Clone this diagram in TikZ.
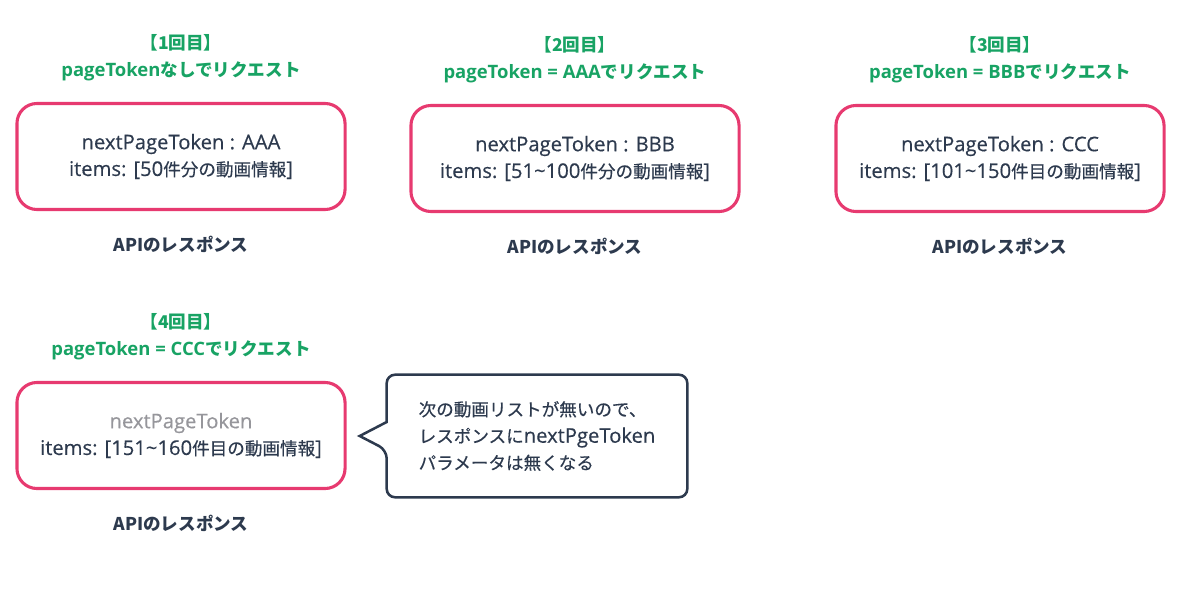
\documentclass[tikz,border=0pt]{standalone}
\usepackage{fontspec}
\setmainfont{Noto Sans CJK JP}[UprightFeatures={FakeBold=0.4}]
\newfontfamily\latinfont[Scale=1.15, FakeBold=0.4]{Open Sans}
\newfontfamily\headlatin[Scale=1.05]{Open Sans}
\usepackage{xcolor}
\usepackage{tikz}
\usetikzlibrary{positioning, calc}
\definecolor{rosepink}{RGB}{231,58,112}
\definecolor{leafgreen}{RGB}{24,163,100}
\definecolor{inkslate}{RGB}{45,58,78}
\definecolor{fadegray}{RGB}{150,150,155}
\newcommand{\lat}[1]{{\latinfont #1}}
\newcommand{\hlat}[1]{{\headlatin #1}}
\newcommand{\wavesep}{{\char"007E\relax}}

\begin{document}
\begin{tikzpicture}[
    x=0.025cm, y=-0.025cm,
    resp/.style={rectangle, draw=rosepink, line width=2.2pt, rounded corners=0.5cm, minimum width=8.2cm, minimum height=2.65cm, align=center, text=inkslate, font=\fontsize{12.5}{19}\selectfont},
    req/.style={align=center, text=leafgreen, font=\fontsize{12.5}{19}\selectfont\bfseries},
    apilabel/.style={text=inkslate, font=\fontsize{12.5}{19}\selectfont\bfseries},
    note/.style={rectangle, minimum width=7.5cm, minimum height=3.05cm, align=left, text=inkslate, font=\fontsize{12.5}{19}\selectfont},
    callout/.style={draw=inkslate, line width=1.8pt, fill=white}
]
\useasboundingbox (0,0) rectangle (1200,604);

% Responses
\node[resp] (res1) at (181,156.5) {\lat{nextPageToken : AAA}\\\lat{items: [50}件分の動画情報\lat{]}};
\node[resp] (res2) at (575,158.5) {\lat{nextPageToken : BBB}\\\lat{items: [51\wavesep100}件分の動画情報\lat{]}};
\node[resp] (res3) at (1000,158.5) {\lat{nextPageToken : CCC}\\\lat{items: [101\wavesep150}件目の動画情報\lat{]}};
\node[resp] (res4) at (181,435.5) {\textcolor{fadegray}{\lat{nextPageToken}}\\\lat{items: [151\wavesep160}件目の動画情報\lat{]}};

% Requests
\node[req, above=0.4cm of res1] (req1) {【1回目】\\\hlat{pageToken}なしでリクエスト};
\node[req, above=0.4cm of res2] (req2) {【2回目】\\\hlat{pageToken = AAA}でリクエスト};
\node[req, above=0.4cm of res3] (req3) {【3回目】\\\hlat{pageToken = BBB}でリクエスト};
\node[req, above=0.4cm of res4] (req4) {【4回目】\\\hlat{pageToken = CCC}でリクエスト};

% Captions
\node[apilabel, below=0.5cm of res1] (lab1) {APIのレスポンス};
\node[apilabel, below=0.5cm of res2] (lab2) {APIのレスポンス};
\node[apilabel, below=0.5cm of res3] (lab3) {APIのレスポンス};
\node[apilabel, below=0.5cm of res4] (lab4) {APIのレスポンス};

% Callout
\node[note] (info) at (537,436) {};
\draw[callout] ($(info.west)+(0,-14)$) [rounded corners=6pt] -- (info.north west) -- (info.north east) -- (info.south east) -- (info.south west) -- ($(info.west)+(0,14)$) [sharp corners] -- ($(info.west)+(-27,0)$) -- cycle;
\node[note] at (info) {次の動画リストが無いので、\\レスポンスに\lat{nextPgeToken}\\パラメータは無くなる};

\end{tikzpicture}
\end{document}
